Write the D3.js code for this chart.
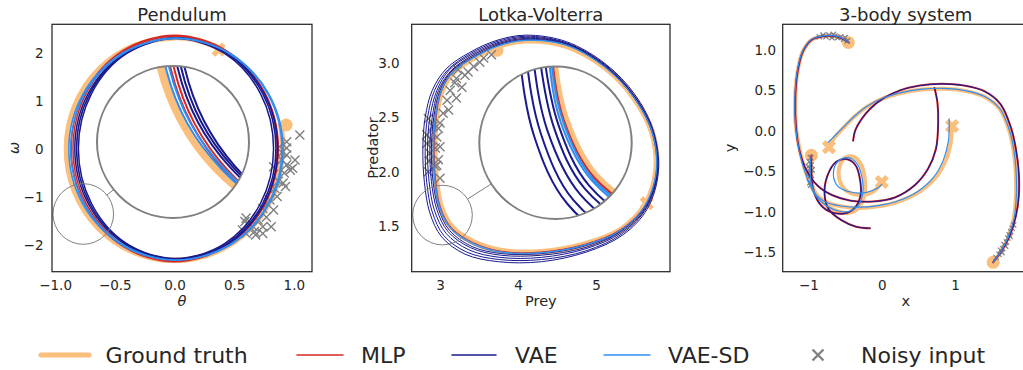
<!DOCTYPE html>
<html>
<head>
<meta charset="utf-8">
<script src="https://cdn.jsdelivr.net/npm/d3@7"></script>
<style>
  body { margin: 0; background: #fff; }
  text { font-family: "DejaVu Sans", sans-serif; fill: #262626; }
</style>
</head>
<body>
<svg id="chart"></svg>
<script>
(function() {

  // ---- data ----
  var seriesNames = ['Ground truth', 'MLP', 'VAE', 'VAE-SD', 'Noisy input'];

  // Pendulum: [theta, omega]
  var pendTruth = [[0.89,0.50],[0.905,0.0],[0.836,-0.888],[0.64,-1.64],[0.346,-2.143],[0.0,-2.32],[-0.346,-2.143],[-0.64,-1.64],[-0.836,-0.888],[-0.905,0.0],[-0.836,0.888],[-0.64,1.64],[-0.346,2.143],[0.0,2.32],[0.2,2.26],[0.37,2.11]];
  var pendMLP = [
    [[0.86,0.01],[0.747,1.19],[0.431,2.05],[0.0,2.37],[-0.431,2.05],[-0.747,1.19],[-0.865,0.01],[-0.747,-1.17],[-0.431,-2.03],[0.0,-2.35],[0.431,-2.03],[0.747,-1.17]],
    [[0.87,0.01],[0.755,1.18],[0.44,2.04],[0.01,2.35],[-0.42,2.04],[-0.735,1.18],[-0.85,0.01],[-0.735,-1.16],[-0.42,-2.02],[0.01,-2.33],[0.44,-2.02],[0.755,-1.16]]
  ];
  var pendVAE = [
    [[0.865,0.01],[0.751,1.165],[0.44,2.0],[0.015,2.32],[-0.41,2.0],[-0.721,1.165],[-0.835,0.01],[-0.721,-1.145],[-0.41,-1.99],[0.015,-2.30],[0.44,-1.99],[0.751,-1.145]],
    [[0.85,0.01],[0.738,1.16],[0.433,2.0],[0.015,2.31],[-0.403,2.0],[-0.708,1.16],[-0.82,0.01],[-0.708,-1.14],[-0.403,-1.98],[0.015,-2.29],[0.433,-1.98],[0.738,-1.14]],
    [[0.83,0.01],[0.72,1.155],[0.42,1.99],[0.01,2.30],[-0.40,1.99],[-0.695,1.155],[-0.805,0.01],[-0.695,-1.135],[-0.40,-1.97],[0.01,-2.28],[0.42,-1.97],[0.72,-1.135]]
  ];
  var pendVAESD = [
    [[0.91,-0.005],[0.79,1.15],[0.46,2.0],[0.01,2.31],[-0.436,2.0],[-0.765,1.15],[-0.885,-0.005],[-0.765,-1.16],[-0.436,-2.01],[0.01,-2.32],[0.46,-2.01],[0.79,-1.16]],
    [[0.90,-0.005],[0.781,1.15],[0.458,1.99],[0.015,2.30],[-0.428,1.99],[-0.751,1.15],[-0.87,-0.005],[-0.751,-1.16],[-0.428,-2.0],[0.015,-2.31],[0.458,-2.0],[0.781,-1.16]]
  ];
  var pendNoisy = [[1.05,0.29],[0.94,0.15],[0.88,0.05],[0.94,-0.125],[0.90,-0.23],[1.01,-0.23],[0.94,-0.33],[0.97,-0.44],[0.92,-0.50],[0.99,-0.40],[0.83,-0.37],[0.91,-0.71],[0.87,-0.67],[0.84,-0.82],[0.93,-0.78],[0.86,-0.99],[0.80,-1.06],[0.83,-1.27],[0.74,-1.24],[0.77,-1.42],[0.70,-1.48],[0.74,-1.62],[0.66,-1.62],[0.60,-1.44],[0.59,-1.51],[0.62,-1.55],[0.67,-1.72],[0.60,-1.76],[0.57,-1.69],[0.68,-1.79],[0.74,-1.76],[0.81,-1.62],[0.90,-0.08],[0.94,0.02]];
  var pendStart = [[0.935,0.50]];
  var pendEnd = [[0.37,2.07]];

  // Lotka-Volterra: [prey, predator]
  var lvTruth = [[4.10,3.21],[3.75,3.16],[3.43,3.05],[3.17,2.92],[3.02,2.74],[2.95,2.50],[2.93,2.22],[2.95,1.92],[3.01,1.68],[3.15,1.49],[3.43,1.35],[3.80,1.27],[4.30,1.26],[4.85,1.33],[5.31,1.46],[5.62,1.68],[5.77,2.00],[5.72,2.36],[5.48,2.69],[5.12,2.96],[4.62,3.16]];
  var lvMLP = [
    [[4.10,3.22],[3.75,3.17],[3.43,3.055],[3.17,2.925],[3.02,2.745],[2.95,2.50],[2.925,2.22],[2.945,1.92],[3.005,1.675],[3.145,1.485],[3.43,1.345],[3.80,1.265],[4.30,1.26],[4.85,1.33],[5.31,1.465],[5.625,1.685],[5.78,2.00],[5.73,2.365],[5.49,2.695],[5.125,2.965],[4.62,3.17]]
  ];
  var lvVAE = [
    [[4.10,3.26],[3.72,3.21],[3.38,3.10],[3.08,2.95],[2.90,2.75],[2.81,2.50],[2.78,2.22],[2.80,1.90],[2.87,1.62],[3.02,1.40],[3.32,1.24],[3.75,1.17],[4.30,1.17],[4.88,1.26],[5.35,1.42],[5.66,1.66],[5.80,2.00],[5.74,2.37],[5.50,2.71],[5.13,2.99],[4.62,3.20]],
    [[4.10,3.25],[3.73,3.20],[3.39,3.09],[3.10,2.94],[2.93,2.75],[2.84,2.50],[2.81,2.22],[2.83,1.90],[2.90,1.63],[3.05,1.41],[3.34,1.26],[3.76,1.19],[4.30,1.19],[4.87,1.27],[5.34,1.43],[5.65,1.67],[5.79,2.00],[5.73,2.37],[5.49,2.70],[5.13,2.98],[4.62,3.19]],
    [[4.10,3.24],[3.74,3.19],[3.40,3.08],[3.12,2.94],[2.96,2.75],[2.87,2.50],[2.84,2.22],[2.86,1.91],[2.93,1.64],[3.08,1.43],[3.37,1.28],[3.77,1.21],[4.30,1.21],[4.87,1.29],[5.33,1.44],[5.64,1.67],[5.785,2.00],[5.73,2.365],[5.49,2.70],[5.125,2.975],[4.62,3.185]],
    [[4.10,3.23],[3.745,3.18],[3.41,3.07],[3.14,2.93],[2.98,2.75],[2.90,2.50],[2.87,2.22],[2.89,1.91],[2.96,1.65],[3.10,1.45],[3.39,1.30],[3.78,1.23],[4.30,1.23],[4.86,1.30],[5.32,1.45],[5.63,1.675],[5.78,2.00],[5.725,2.36],[5.485,2.695],[5.12,2.97],[4.62,3.18]],
    [[4.10,3.22],[3.75,3.17],[3.42,3.06],[3.155,2.93],[3.0,2.75],[2.92,2.50],[2.89,2.22],[2.91,1.915],[2.98,1.66],[3.12,1.46],[3.41,1.31],[3.79,1.245],[4.30,1.245],[4.855,1.315],[5.315,1.455],[5.625,1.68],[5.775,2.00],[5.72,2.36],[5.48,2.69],[5.12,2.965],[4.62,3.175]]
  ];
  var lvVAESD = [
    [[4.10,3.215],[3.75,3.165],[3.425,3.055],[3.165,2.925],[3.01,2.745],[2.935,2.50],[2.91,2.22],[2.93,1.92],[2.99,1.67],[3.135,1.475],[3.42,1.33],[3.795,1.255],[4.30,1.25],[4.85,1.32],[5.31,1.455],[5.62,1.675],[5.775,2.00],[5.725,2.36],[5.485,2.69],[5.12,2.965],[4.62,3.17]],
    [[4.10,3.21],[3.75,3.16],[3.43,3.05],[3.17,2.92],[3.015,2.74],[2.945,2.50],[2.92,2.22],[2.94,1.92],[3.0,1.675],[3.14,1.48],[3.425,1.34],[3.80,1.26],[4.30,1.255],[4.85,1.325],[5.31,1.46],[5.62,1.68],[5.77,2.00],[5.72,2.36],[5.48,2.69],[5.12,2.96],[4.62,3.165]]
  ];
  var lvNoisy = [[3.66,3.08],[3.56,3.05],[3.51,3.01],[3.43,2.97],[3.36,2.92],[3.32,2.89],[3.23,2.94],[3.21,2.86],[3.19,2.82],[3.28,2.78],[3.13,2.75],[3.21,2.68],[3.09,2.66],[3.11,2.57],[3.04,2.54],[2.85,2.49],[3.0,2.45],[2.98,2.40],[2.91,2.42],[2.83,2.34],[2.96,2.32],[2.89,2.29],[3.0,2.23],[2.94,2.22],[2.87,2.17],[2.98,2.11],[2.96,2.06],[2.85,2.0],[3.0,1.94],[2.94,2.05],[2.83,2.26],[2.86,2.1]];
  var lvStart = [[3.73,3.12]];
  var lvEnd = [[5.65,1.71]];

  // 3-body system: [x, y] per body
  var bodyTruth = [
    [[-0.45,1.09],[-0.6,1.16],[-0.78,1.17],[-0.96,1.12],[-1.08,0.97],[-1.15,0.72],[-1.18,0.40],[-1.17,0.05],[-1.11,-0.27],[-1.02,-0.55],[-0.9,-0.78],[-0.75,-0.92],[-0.6,-0.99],[-0.45,-1.01],[-0.32,-0.95],[-0.24,-0.8],[-0.23,-0.6],[-0.28,-0.42],[-0.38,-0.32],[-0.5,-0.33],[-0.58,-0.45],[-0.57,-0.62],[-0.48,-0.74],[-0.3,-0.79],[-0.12,-0.75],[0.0,-0.64]],
    [[-0.96,-0.30],[-0.97,-0.45],[-0.96,-0.62],[-0.9,-0.77],[-0.75,-0.88],[-0.55,-0.93],[-0.3,-0.95],[-0.05,-0.93],[0.2,-0.88],[0.48,-0.77],[0.72,-0.59],[0.87,-0.37],[0.94,-0.15],[0.96,0.06]],
    [[1.52,-1.62],[1.63,-1.48],[1.73,-1.3],[1.80,-1.08],[1.83,-0.82],[1.83,-0.55],[1.80,-0.25],[1.74,0.0],[1.61,0.27],[1.40,0.42],[1.15,0.49],[0.85,0.52],[0.55,0.51],[0.28,0.47],[0.02,0.40],[-0.2,0.30],[-0.38,0.17],[-0.53,0.03],[-0.65,-0.09],[-0.73,-0.2]]
  ];
  var bodyVAESD = [
    [[-0.45,1.09],[-0.6,1.165],[-0.78,1.175],[-0.96,1.125],[-1.085,0.97],[-1.155,0.72],[-1.185,0.40],[-1.175,0.05],[-1.12,-0.27],[-1.03,-0.55],[-0.9,-0.8],[-0.74,-0.93],[-0.58,-0.99],[-0.44,-0.99],[-0.32,-0.92],[-0.26,-0.77],[-0.27,-0.57],[-0.34,-0.4],[-0.46,-0.33],[-0.6,-0.38],[-0.66,-0.53],[-0.6,-0.68],[-0.44,-0.75],[-0.22,-0.76],[-0.05,-0.7],[0.0,-0.66]],
    [[-0.96,-0.30],[-0.975,-0.45],[-0.965,-0.62],[-0.91,-0.77],[-0.76,-0.88],[-0.55,-0.925],[-0.3,-0.94],[-0.05,-0.92],[0.2,-0.87],[0.47,-0.76],[0.70,-0.58],[0.84,-0.36],[0.91,-0.12],[0.92,0.15]],
    [[1.52,-1.62],[1.63,-1.48],[1.73,-1.3],[1.805,-1.08],[1.835,-0.82],[1.835,-0.55],[1.805,-0.25],[1.745,0.0],[1.615,0.27],[1.405,0.425],[1.15,0.495],[0.85,0.525],[0.55,0.515],[0.28,0.475],[0.02,0.405],[-0.2,0.305],[-0.38,0.175],[-0.53,0.04],[-0.64,-0.06],[-0.73,-0.14]]
  ];
  var bodyMLP = [
    [[-0.45,1.09],[-0.6,1.16],[-0.78,1.17],[-0.96,1.12],[-1.08,0.97],[-1.15,0.72],[-1.18,0.40],[-1.17,0.05],[-1.12,-0.25],[-1.03,-0.48],[-0.88,-0.67],[-0.68,-0.79],[-0.42,-0.86],[-0.12,-0.87],[0.18,-0.82],[0.45,-0.67],[0.63,-0.47],[0.74,-0.22],[0.77,0.1],[0.76,0.35],[0.72,0.53]],
    [[-0.96,-0.30],[-0.96,-0.5],[-0.94,-0.7],[-0.86,-0.88],[-0.72,-0.99],[-0.53,-1.02],[-0.38,-0.96],[-0.29,-0.80],[-0.30,-0.58],[-0.36,-0.42],[-0.47,-0.35],[-0.62,-0.38],[-0.74,-0.55],[-0.78,-0.78],[-0.72,-0.97],[-0.55,-1.1],[-0.35,-1.18],[-0.16,-1.2]],
    [[1.52,-1.62],[1.64,-1.47],[1.75,-1.28],[1.83,-1.05],[1.87,-0.8],[1.87,-0.52],[1.83,-0.22],[1.76,0.05],[1.62,0.33],[1.40,0.49],[1.12,0.56],[0.82,0.58],[0.52,0.56],[0.25,0.50],[0.02,0.40],[-0.15,0.28],[-0.28,0.14],[-0.36,0.01],[-0.39,-0.12]]
  ];
  var bodyVAE = bodyMLP;
  var bodyNoisy = [[-0.85,1.16],[-0.8,1.18],[-0.76,1.16],[-0.72,1.18],[-0.68,1.15],[-0.64,1.17],[-0.6,1.15],[-0.56,1.16],[-0.52,1.13],[-0.5,1.15],[-0.47,1.11],[-0.66,1.19],
    [-0.97,-0.33],[-0.99,-0.38],[-0.96,-0.42],[-0.98,-0.46],[-1.0,-0.5],[-0.97,-0.53],[-0.99,-0.57],[-0.96,-0.6],[-0.98,-0.64],[-1.0,-0.44],[-0.95,-0.48],[-0.97,-0.67],
    [1.56,-1.56],[1.6,-1.52],[1.62,-1.47],[1.65,-1.45],[1.67,-1.4],[1.7,-1.37],[1.72,-1.32],[1.74,-1.28],[1.76,-1.24],[1.78,-1.2],[1.8,-1.16],[1.64,-1.5],[1.69,-1.42],[1.75,-1.3]];
  var bodyStart = [[-0.455,1.09],[-0.96,-0.30],[1.52,-1.62]];
  var bodyEnd = [[-0.72,-0.2],[0.0,-0.63],[0.96,0.06]];

  // ---- style / layout ----
  var colors = { truth: '#fabe7d', mlp: '#d62728', vae: '#1a1a8e', vaesd: '#2f8ef0', noisy: '#808080' };
  var plotTop = 24.3, plotH = 247.4;

  var panels = [
    { title: 'Pendulum', left: 52, width: 260, xDomain: [-1.026, 1.152], yDomain: [-2.556, 2.598],
      xTicks: [-1, -0.5, 0, 0.5, 1], xFmt: '.1f', yTicks: [-2, -1, 0, 1, 2], yFmt: 'd', yPad: 8.5,
      xLabel: 'θ', yLabel: 'ω', italic: true, yLabelX: -33,
      truth: [pendTruth], truthClosed: false, truthW: 5.5, mlp: pendMLP, vae: pendVAE, vaesd: pendVAESD, closed: true,
      noisy: pendNoisy, noisySize: 55, start: pendStart, end: pendEnd, lineW: 1.5,
      inset: { small: [-0.764, -1.354], smallR: 30.3, src: [-0.825, -1.354], mag: 2.0, center: [121, 117.7], r: 76 } },
    { title: 'Lotka-Volterra', left: 411.7, width: 258.3, xDomain: [2.637, 5.949], yDomain: [1.078, 3.36],
      xTicks: [3, 4, 5], xFmt: 'd', yTicks: [1.5, 2.0, 2.5, 3.0], yFmt: '.1f', yPad: 12,
      xLabel: 'Prey', yLabel: 'Predator', italic: false, yLabelX: -34.2,
      truth: [lvTruth], truthClosed: true, truthW: 6, mlp: lvMLP, vae: lvVAE, vaesd: lvVAESD, closed: true,
      noisy: lvNoisy, noisySize: 55, start: lvStart, end: lvEnd, lineW: 1.0,
      inset: { small: [3.032, 1.60], smallR: 29.8, src: [2.967, 1.60], mag: 2.8, center: [143.8, 118.5], r: 76.2 } },
    { title: '3-body system', left: 782.7, width: 246, xDomain: [-1.351, 2.005], yDomain: [-1.735, 1.314],
      xTicks: [-1, 0, 1], xFmt: 'd', yTicks: [-1.5, -1, -0.5, 0, 0.5, 1], yFmt: '.1f', yPad: 6.7,
      xLabel: 'x', yLabel: 'y', italic: false, yLabelX: -47.7,
      truth: bodyTruth, truthClosed: false, truthW: 4, mlp: bodyMLP, vae: bodyVAE, vaesd: bodyVAESD, closed: false,
      noisy: bodyNoisy, noisySize: 20, start: bodyStart, end: bodyEnd, lineW: 1.2,
      inset: null }
  ];

  var svg = d3.select('#chart')
    .attr('width', 1023)
    .attr('height', 370);
  var defs = svg.append('defs');

  function drawTracks(sel, tracks, color, w, closed, x, y, scaled) {
    var line = d3.line()
      .x(function(d) { return x(d[0]); })
      .y(function(d) { return y(d[1]); })
      .curve(closed ? d3.curveCatmullRomClosed.alpha(0.5) : d3.curveCatmullRom.alpha(0.5));
    var paths = sel.selectAll(null)
      .data(tracks)
      .enter()
      .append('path')
      .attr('d', line)
      .attr('fill', 'none')
      .attr('stroke', color)
      .attr('stroke-width', w)
      .attr('stroke-linecap', 'round')
      .attr('stroke-linejoin', 'round');
    if (scaled) paths.attr('vector-effect', 'non-scaling-stroke');
  }

  panels.forEach(function(p, i) {
    var g = svg.append('g').attr('transform', 'translate(' + p.left + ',' + plotTop + ')');
    var x = d3.scaleLinear().domain(p.xDomain).range([0, p.width]);
    var y = d3.scaleLinear().domain(p.yDomain).range([plotH, 0]);

    defs.append('clipPath').attr('id', 'clip' + i)
      .append('rect').attr('width', p.width).attr('height', plotH);

    var plot = g.append('g').attr('clip-path', 'url(#clip' + i + ')');

    drawTracks(plot, p.truth, colors.truth, p.truthW, p.truthClosed, x, y);

    plot.selectAll('.start')
      .data(p.start)
      .enter()
      .append('circle')
      .attr('cx', function(d) { return x(d[0]); })
      .attr('cy', function(d) { return y(d[1]); })
      .attr('r', 6.5)
      .style('fill', colors.truth);

    plot.selectAll('.end')
      .data(p.end)
      .enter()
      .append('path')
      .attr('d', d3.symbol(d3.symbolCross, 125))
      .attr('transform', function(d) { return 'translate(' + x(d[0]) + ',' + y(d[1]) + ') rotate(45)'; })
      .style('fill', colors.truth);

    plot.selectAll('.noisy')
      .data(p.noisy)
      .enter()
      .append('path')
      .attr('d', d3.symbol(d3.symbolX, p.noisySize))
      .attr('transform', function(d) { return 'translate(' + x(d[0]) + ',' + y(d[1]) + ')'; })
      .attr('fill', 'none')
      .attr('stroke', colors.noisy)
      .attr('stroke-width', p.noisySize > 30 ? 1.4 : 1.2);

    drawTracks(plot, p.mlp, colors.mlp, i === 2 ? 2.0 : p.lineW, p.closed, x, y);
    drawTracks(plot, p.vae, colors.vae, i === 2 ? 1.1 : p.lineW, p.closed, x, y);
    drawTracks(plot, p.vaesd, colors.vaesd, p.lineW, p.closed, x, y);

    // zoomed inset
    if (p.inset) {
      var ins = p.inset;
      var scx = x(ins.small[0]), scy = y(ins.small[1]);
      var dx = ins.center[0] - scx, dy = ins.center[1] - scy;
      var len = Math.sqrt(dx * dx + dy * dy);
      g.append('circle')
        .attr('cx', scx).attr('cy', scy).attr('r', ins.smallR)
        .attr('fill', 'none').attr('stroke', '#808080').attr('stroke-width', 1);
      g.append('line')
        .attr('x1', scx + dx / len * ins.smallR).attr('y1', scy + dy / len * ins.smallR)
        .attr('x2', ins.center[0] - dx / len * ins.r).attr('y2', ins.center[1] - dy / len * ins.r)
        .attr('stroke', '#808080').attr('stroke-width', 1);

      defs.append('clipPath').attr('id', 'inset' + i)
        .append('circle').attr('cx', ins.center[0]).attr('cy', ins.center[1]).attr('r', ins.r);
      var ig = g.append('g').attr('clip-path', 'url(#inset' + i + ')');
      ig.append('circle').attr('cx', ins.center[0]).attr('cy', ins.center[1]).attr('r', ins.r).attr('fill', '#fff');
      var zg = ig.append('g')
        .attr('transform', 'translate(' + ins.center[0] + ',' + ins.center[1] + ') scale(' + ins.mag + ') translate(' + (-x(ins.src[0])) + ',' + (-y(ins.src[1])) + ')');
      drawTracks(zg, p.truth, colors.truth, 8, p.truthClosed, x, y, true);
      drawTracks(zg, p.mlp, colors.mlp, 2, p.closed, x, y, true);
      drawTracks(zg, p.vae, colors.vae, 2, p.closed, x, y, true);
      drawTracks(zg, p.vaesd, colors.vaesd, 2, p.closed, x, y, true);
      g.append('circle').attr('cx', ins.center[0]).attr('cy', ins.center[1]).attr('r', ins.r)
        .attr('fill', 'none').attr('stroke', '#808080').attr('stroke-width', 2);
    }

    // frame
    g.append('rect')
      .attr('width', p.width).attr('height', plotH)
      .attr('fill', 'none').attr('stroke', '#262626').attr('stroke-width', 1.25);

    // axes
    var xAxis = g.append('g')
      .attr('transform', 'translate(0,' + plotH + ')')
      .call(d3.axisBottom(x).tickValues(p.xTicks).tickFormat(d3.format(p.xFmt)).tickSize(0).tickPadding(9.2));
    var yAxis = g.append('g')
      .call(d3.axisLeft(y).tickValues(p.yTicks).tickFormat(d3.format(p.yFmt)).tickSize(0).tickPadding(p.yPad));
    [xAxis, yAxis].forEach(function(a) {
      a.select('.domain').remove();
      a.selectAll('text').style('font-size', '13.5px').style('fill', '#262626').style('font-family', '"DejaVu Sans", sans-serif');
    });

    g.append('text')
      .attr('x', p.width / 2).attr('y', -3.6)
      .style('text-anchor', 'middle').style('font-size', '18px')
      .text(p.title);

    g.append('text')
      .attr('x', p.width / 2).attr('y', plotH + 34.5)
      .style('text-anchor', 'middle').style('font-size', '14.5px')
      .style('font-style', p.italic ? 'italic' : 'normal')
      .text(p.xLabel);

    g.append('text')
      .attr('transform', 'translate(' + p.yLabelX + ',' + (plotH / 2) + ') rotate(-90)')
      .style('text-anchor', 'middle').style('font-size', '14.5px')
      .style('font-style', p.italic ? 'italic' : 'normal')
      .text(p.yLabel);
  });

  // ---- legend ----
  var legendItems = [
    { name: seriesNames[0], color: colors.truth, w: 5, x1: 41, x2: 89, tx: 105.6 },
    { name: seriesNames[1], color: colors.mlp, w: 1.5, x1: 297, x2: 343, tx: 361 },
    { name: seriesNames[2], color: colors.vae, w: 1.5, x1: 452, x2: 496, tx: 515 },
    { name: seriesNames[3], color: colors.vaesd, w: 1.5, x1: 604, x2: 650, tx: 668 },
    { name: seriesNames[4], color: colors.noisy, marker: true, x1: 818, tx: 861 }
  ];
  var legendY = 355;
  var legend = svg.append('g');
  legendItems.forEach(function(d) {
    if (d.marker) {
      legend.append('path')
        .attr('d', d3.symbol(d3.symbolX, 80))
        .attr('transform', 'translate(' + d.x1 + ',' + legendY + ')')
        .attr('fill', 'none').attr('stroke', d.color).attr('stroke-width', 2.4);
    } else {
      legend.append('line')
        .attr('x1', d.x1).attr('x2', d.x2).attr('y1', legendY).attr('y2', legendY)
        .attr('stroke', d.color).attr('stroke-width', d.w).attr('stroke-linecap', 'round');
    }
    legend.append('text')
      .attr('x', d.tx).attr('y', legendY + 8)
      .style('font-size', '22px')
      .text(d.name);
  });

})();
</script>
</body>
</html>
